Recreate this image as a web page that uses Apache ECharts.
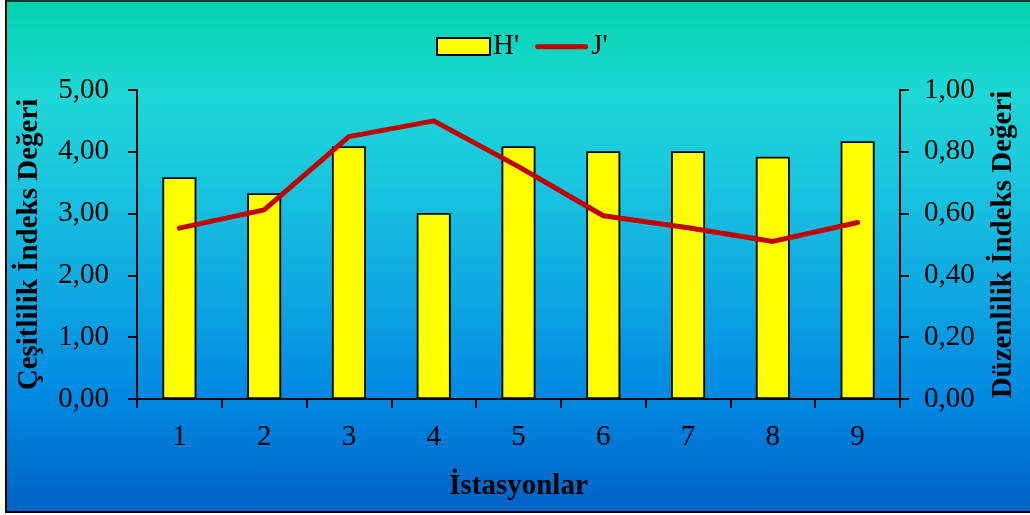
<!DOCTYPE html>
<html>
<head>
<meta charset="utf-8">
<script src="https://cdn.jsdelivr.net/npm/echarts@6/dist/echarts.min.js"></script>
<style>
  html, body { margin: 0; padding: 0; background: #ffffff; }
  #bg {
    position: absolute; left: 5px; top: 0; width: 1025px; height: 509px;
    border-left: 2px solid #000; border-top: 2px solid #0a3a30; border-bottom: 2px solid #000;
    background: linear-gradient(to bottom, #03d3ad 0%, #1ed8d6 18%, #1ac8de 33%, #0ea6e2 58%, #0088e2 78%, #0062c6 100%);
  }
  #chart { position: absolute; left: 0; top: 0; width: 1030px; height: 515px; }
</style>
</head>
<body>
<div id="bg"></div>
<div id="chart"></div>
<script>
const categories = ['1', '2', '3', '4', '5', '6', '7', '8', '9'];
const hValues = [3.59, 3.33, 4.09, 3.01, 4.09, 4.01, 4.01, 3.92, 4.17];
const jValues = [0.553, 0.612, 0.849, 0.90, 0.752, 0.593, 0.554, 0.51, 0.571];
const seriesNames = ["H'", "J'"];
const leftAxisName = 'Çeşitlilik İndeks Değeri';
const rightAxisName = 'Düzenlilik İndeks Değeri';
const xAxisName = 'İstasyonlar';

const FONT = '"Liberation Serif", "Times New Roman", serif';
const fmt = v => v.toFixed(2).replace('.', ',');
const LINE_ICON = 'path://M0,0L0.01,0L0.01,0Z M1,6 L55,6 A2.8,2.8 0 0 1 55,11.6 L1,11.6 A2.8,2.8 0 0 1 1,6 Z M0,17L0.01,17L0.01,17Z';

const chart = echarts.init(document.getElementById('chart'), null, { renderer: 'canvas' });
chart.setOption({
  backgroundColor: 'transparent',
  textStyle: { fontFamily: FONT, color: '#000' },
  legend: {
    left: 431, top: 27,
    itemWidth: 53, itemHeight: 17, itemGap: 16,
    textStyle: { fontFamily: FONT, fontSize: 29, color: '#000', padding: [0, 0, 0, -2] },
    data: [
      { name: seriesNames[0], icon: 'rect' },
      { name: seriesNames[1], icon: LINE_ICON, itemStyle: { color: '#c00000', borderWidth: 0 } }
    ]
  },
  grid: { left: 137, right: 130, top: 90, bottom: 116 },
  xAxis: {
    type: 'category',
    data: categories,
    name: xAxisName,
    nameLocation: 'middle',
    nameGap: 73,
    nameTextStyle: { fontFamily: FONT, fontSize: 29, fontWeight: 'bold', color: '#000' },
    axisLine: { lineStyle: { color: '#000', width: 2 } },
    axisTick: { show: true, inside: false, length: 9, lineStyle: { color: '#000', width: 2 } },
    axisLabel: { fontFamily: FONT, fontSize: 29, color: '#000', margin: 24 },
    splitLine: { show: false }
  },
  yAxis: [
    {
      type: 'value', min: 0, max: 5, interval: 1,
      name: leftAxisName,
      nameLocation: 'middle',
      nameRotate: 90,
      nameGap: 93,
      nameTextStyle: { fontFamily: FONT, fontSize: 29, fontWeight: 'bold', color: '#000' },
      axisLine: { show: true, lineStyle: { color: '#000', width: 2 } },
      axisTick: { show: true, inside: false, length: 9, lineStyle: { color: '#000', width: 2 } },
      axisLabel: { fontFamily: FONT, fontSize: 29, color: '#000', margin: 28, formatter: fmt },
      splitLine: { show: false }
    },
    {
      type: 'value', min: 0, max: 1, interval: 0.2,
      position: 'right',
      name: rightAxisName,
      nameLocation: 'middle',
      nameRotate: 90,
      nameGap: 89,
      nameTextStyle: { fontFamily: FONT, fontSize: 29, fontWeight: 'bold', color: '#000' },
      axisLine: { show: true, lineStyle: { color: '#000', width: 2 } },
      axisTick: { show: true, inside: false, length: 9, lineStyle: { color: '#000', width: 2 } },
      axisLabel: { fontFamily: FONT, fontSize: 29, color: '#000', margin: 24, formatter: fmt },
      splitLine: { show: false }
    }
  ],
  series: [
    {
      name: seriesNames[0],
      type: 'bar',
      data: hValues,
      barWidth: 34,
      itemStyle: { color: '#ffff00', borderColor: '#000', borderWidth: 1.8 }
    },
    {
      name: seriesNames[1],
      type: 'line',
      yAxisIndex: 1,
      data: jValues,
      symbol: 'none',
      lineStyle: { color: '#c00000', width: 5, cap: 'round' },
      itemStyle: { color: '#c00000' }
    }
  ]
});
</script>
</body>
</html>
